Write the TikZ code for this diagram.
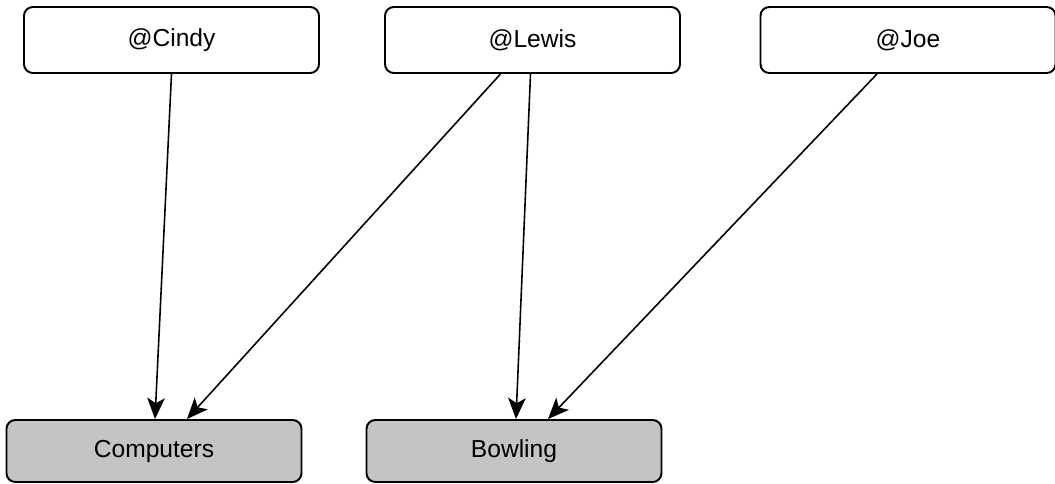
\documentclass[tikz,border=0pt]{standalone}
\usepackage{fontspec}
\setmainfont{Liberation Sans}
\usetikzlibrary{arrows.meta}

\definecolor{topicgray}{HTML}{C4C4C4}
\tikzset{
    user/.style={draw, line width=1.1pt, rounded corners=5pt, fill=white,
        minimum width=5.9cm, minimum height=1.32cm, font=\fontsize{14}{16}\selectfont},
    topic/.style={user, fill=topicgray, minimum height=1.24cm},
    follows/.style={line width=0.9pt, -{Stealth[length=12pt,width=10pt,inset=3pt]}}
}

\begin{document}
\begin{tikzpicture}
    \useasboundingbox (0,0) rectangle (21.1,-9.66);
    \node[user] (cindy) at (3.43,-0.80) {@Cindy};
    \node[user] (lewis) at (10.65,-0.80) {@Lewis};
    \node[user] (joe) at (18.16,-0.80) {@Joe};
    \node[topic] (computers) at (3.08,-9.02) {Computers};
    \node[topic] (bowling) at (10.28,-9.02) {Bowling};
    % who follows what
    \draw[follows] (cindy.south) -- ([xshift=0.02cm]computers.north);
    \draw[follows] ([xshift=-0.64cm]lewis.south) -- ([xshift=0.66cm]computers.north);
    \draw[follows] ([xshift=-0.04cm]lewis.south) -- ([xshift=0.04cm]bowling.north);
    \draw[follows] ([xshift=-0.62cm]joe.south) -- ([xshift=0.68cm]bowling.north);
\end{tikzpicture}
\end{document}
